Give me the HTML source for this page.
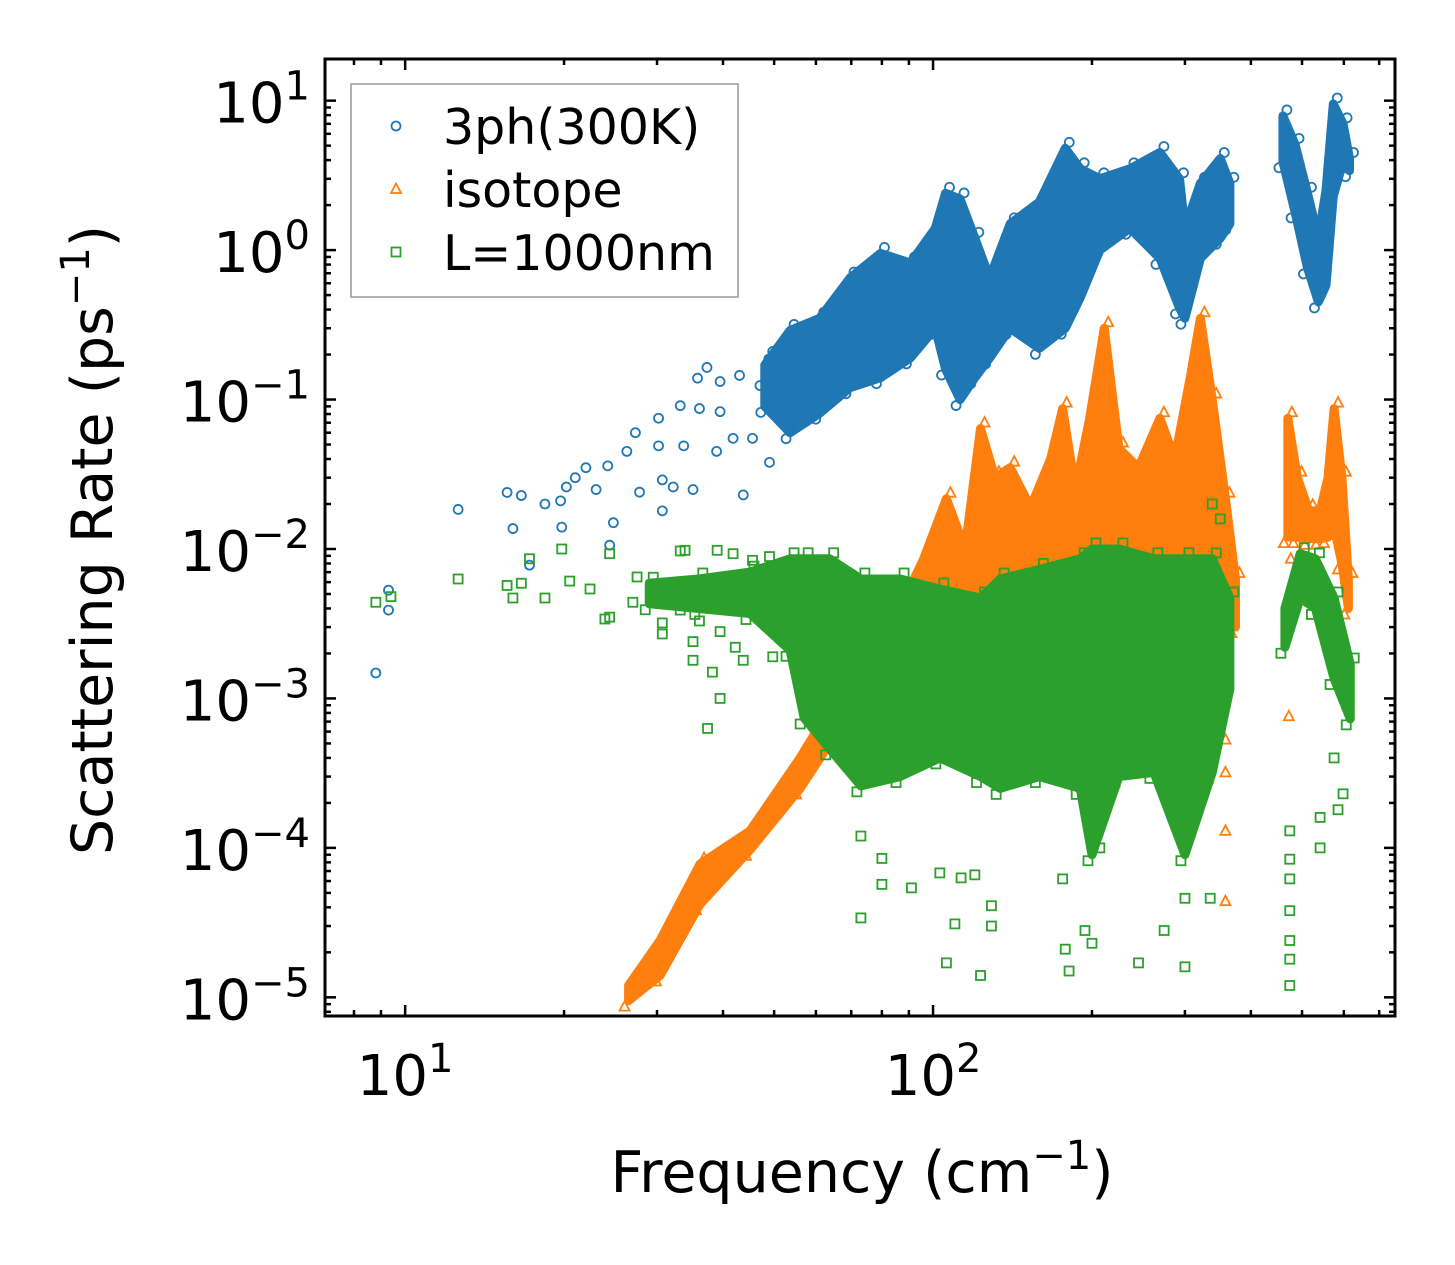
<!DOCTYPE html>
<html><head><meta charset="utf-8"><style>
html,body{margin:0;padding:0;background:#fff;}
svg{display:block;font-family:"DejaVu Sans","Liberation Sans",sans-serif;}
</style></head><body>
<svg id="chart" width="1455" height="1265" viewBox="0 0 1455 1265" xmlns="http://www.w3.org/2000/svg">
<rect x="0" y="0" width="1455" height="1265" fill="#fff"/>
<defs><clipPath id="plotclip"><rect x="325" y="59" width="1070" height="957"/></clipPath></defs>
<g id="marks" clip-path="url(#plotclip)"></g>
<g id="axes"></g>
</svg>
<script>
// ---- axis ranges ----
const xDomain = [7.05, 750];
const yDomain = [0.0000075, 19];
const xTickLabels = [10, 100];
const yTickExps = [1, 0, -1, -2, -3, -4, -5];

// ---- 3ph(300K) sparse points ----
const phFreq = [8.8, 9.3, 9.3, 12.6, 15.6, 16.0, 16.6, 17.2, 18.4, 19.7, 20.2, 19.8, 21.0, 22.0, 23.0, 24.2, 24.8, 24.4, 26.3, 27.3, 27.8, 30.2, 30.2, 30.7, 30.7, 32.2, 33.2, 33.7, 35.1, 35.8, 36.1, 37.3, 38.9, 39.5, 39.5, 41.8, 43.0, 43.7, 45.5, 47.0, 49.0, 49.7, 53.0, 56.0];
const phRate = [0.00148, 0.0053, 0.0039, 0.0184, 0.0239, 0.0137, 0.0228, 0.0078, 0.020, 0.021, 0.026, 0.014, 0.030, 0.035, 0.025, 0.036, 0.015, 0.0106, 0.045, 0.060, 0.024, 0.075, 0.049, 0.029, 0.018, 0.026, 0.091, 0.049, 0.025, 0.139, 0.087, 0.164, 0.045, 0.132, 0.083, 0.055, 0.145, 0.023, 0.055, 0.124, 0.038, 0.21, 0.067, 0.087];
// ---- 3ph dense band (freq, low, high) ----
const phBandFreq = [48, 53.6, 61, 69.6, 79.5, 90.6, 101, 105.6, 112.5, 120, 128, 140, 159, 178, 190, 207, 236, 269, 293, 300, 321, 350, 365];
const phBandHigh = [0.17, 0.29, 0.35, 0.65, 0.95, 0.82, 1.4, 2.4, 2.2, 1.2, 0.65, 1.5, 2.1, 4.8, 3.5, 3.0, 3.5, 4.5, 3.0, 1.4, 2.8, 4.1, 2.8];
const phBandLow = [0.09, 0.06, 0.081, 0.12, 0.14, 0.19, 0.3, 0.16, 0.10, 0.14, 0.19, 0.3, 0.22, 0.3, 0.48, 1.0, 1.4, 0.88, 0.41, 0.35, 0.88, 1.2, 1.5];
const ph2BandFreq = [460, 485, 512, 537, 555, 573, 598, 615];
const ph2BandHigh = [7.9, 5.1, 2.4, 1.2, 2.5, 9.5, 7.0, 4.1];
const ph2BandLow = [3.9, 1.8, 0.76, 0.45, 0.58, 2.3, 3.9, 3.4];

// ---- isotope ----
const isoBandFreq = [26.5, 30.4, 36.2, 45, 56, 63.7, 73, 86.6, 96, 106, 115, 123, 131, 140, 153, 167, 176, 186, 198, 211, 225, 245, 269, 287, 307, 321, 338, 358, 374];
const isoBandHigh = [1.2e-5, 2.4e-5, 7.8e-5, 1.3e-4, 4e-4, 8.5e-4, 1.4e-3, 4e-3, 8.6e-3, 0.0217, 0.01, 0.064, 0.03, 0.035, 0.019, 0.04, 0.087, 0.025, 0.075, 0.3, 0.047, 0.035, 0.075, 0.04, 0.14, 0.35, 0.1, 0.0217, 0.0063];
const isoBandLow = [0.95e-5, 1.4e-5, 4.2e-5, 9.7e-5, 2.5e-4, 5e-4, 1e-3, 2e-3, 3e-3, 3.4e-3, 3.4e-3, 3.4e-3, 3.4e-3, 3.4e-3, 3.4e-3, 3.4e-3, 3.4e-3, 3.4e-3, 3.4e-3, 3.4e-3, 3.4e-3, 3.4e-3, 3.4e-3, 3.4e-3, 3.4e-3, 3.4e-3, 3.4e-3, 3.4e-3, 3.0e-3];
const iso2BandFreq = [470, 490, 515, 541, 560, 575, 595, 612];
const iso2BandHigh = [0.075, 0.03, 0.018, 0.018, 0.03, 0.087, 0.03, 0.0063];
const iso2BandLow = [0.012, 0.012, 0.0117, 0.0117, 0.012, 0.014, 0.008, 0.004];
const isoFreq = [472, 358, 358, 358, 358, 476];
const isoRate = [7.6e-4, 3.2e-4, 1.3e-4, 4.4e-5, 5.3e-4, 0.0086];

// ---- L=1000nm ----
const bdFreq = [8.8, 9.4, 12.6, 15.6, 16.0, 16.6, 17.2, 18.4, 19.8, 20.5, 22.4, 23.9, 24.4, 24.4, 27.0, 27.5, 30.7, 30.7, 33.2, 33.2, 33.9, 35.1, 35.1, 36.1, 37.4, 38.2, 39.0, 39.5, 39.5, 41.8, 42.2, 43.7, 45.5, 49.0, 49.7, 73, 73, 80, 80, 91, 103, 106, 110, 113, 120, 123, 129, 129, 176, 178, 181, 194, 200, 207, 245, 274, 300, 300, 335, 474, 474, 474, 474, 474, 474, 474, 575, 598, 541, 541, 585, 350, 338];
const bdRate = [4.4e-3, 4.8e-3, 6.3e-3, 5.7e-3, 4.7e-3, 5.9e-3, 8.6e-3, 4.7e-3, 0.01, 6.1e-3, 5.4e-3, 3.4e-3, 3.5e-3, 9.3e-3, 4.4e-3, 6.5e-3, 3.2e-3, 2.7e-3, 3.9e-3, 9.7e-3, 9.8e-3, 2.4e-3, 1.8e-3, 3.3e-3, 6.3e-4, 1.5e-3, 9.8e-3, 2.8e-3, 1e-3, 9.3e-3, 2.2e-3, 1.8e-3, 8.4e-3, 8.9e-3, 1.9e-3, 1.2e-4, 3.4e-5, 8.5e-5, 5.7e-5, 5.4e-5, 6.8e-5, 1.7e-5, 3.1e-5, 6.3e-5, 6.6e-5, 1.4e-5, 4.1e-5, 3e-5, 6.2e-5, 2.1e-5, 1.5e-5, 2.8e-5, 2.3e-5, 1e-4, 1.7e-5, 2.8e-5, 1.6e-5, 4.6e-5, 4.6e-5, 1.3e-4, 8.4e-5, 6.2e-5, 3.8e-5, 2.4e-5, 1.8e-5, 1.2e-5, 4e-4, 2.3e-4, 1.6e-4, 1e-4, 1.8e-4, 0.0159, 0.02];
const bdBandFreq = [29, 36, 45, 53.6, 57, 63.7, 73, 86.6, 103, 123, 134, 159, 190, 200, 225, 262, 300, 338, 365];
const bdBandHigh = [5.9e-3, 6.3e-3, 7e-3, 8.6e-3, 8.6e-3, 8.6e-3, 6.3e-3, 6.3e-3, 5.4e-3, 4.7e-3, 6.3e-3, 7.3e-3, 8.6e-3, 0.01, 0.01, 8.6e-3, 8.6e-3, 8.6e-3, 4.7e-3];
const bdBandLow = [4.3e-3, 4e-3, 3.7e-3, 2.1e-3, 7.4e-4, 4.6e-4, 2.6e-4, 3e-4, 4e-4, 3e-4, 2.5e-4, 3e-4, 2.5e-4, 9e-5, 3e-4, 3.2e-4, 9e-5, 3.2e-4, 1.16e-3];
const bd2BandFreq = [464, 496, 530, 575, 617];
const bd2BandHigh = [4e-3, 9.3e-3, 8.6e-3, 4.7e-3, 1.7e-3];
const bd2BandLow = [2.2e-3, 4.7e-3, 4e-3, 1.36e-3, 7.3e-4];

const NS = "http://www.w3.org/2000/svg";
const L = 325, R = 1395, T = 59, B = 1016;
function xs(v){ return L + (Math.log10(v) - Math.log10(xDomain[0])) / (Math.log10(xDomain[1]) - Math.log10(xDomain[0])) * (R - L); }
function ys(v){ return B - (Math.log10(v) - Math.log10(yDomain[0])) / (Math.log10(yDomain[1]) - Math.log10(yDomain[0])) * (B - T); }
function mk(tag, attrs, parent){ const e = document.createElementNS(NS, tag); for (const k in attrs) e.setAttribute(k, attrs[k]); parent.appendChild(e); return e; }
const marks = document.getElementById('marks');
const axes = document.getElementById('axes');
const C1 = '#1f77b4', C2 = '#ff7f0e', C3 = '#2ca02c';

function marker(shape, cx, cy, color, parent){
  let e;
  if (shape === 'o') e = mk('circle', {cx: cx, cy: cy, r: 4.5, fill: 'none', stroke: color, 'stroke-width': 1.8}, parent);
  else if (shape === '^') e = mk('polygon', {points: `${cx},${cy-5.5} ${cx-5},${cy+4} ${cx+5},${cy+4}`, fill: 'none', stroke: color, 'stroke-width': 1.8}, parent);
  else e = mk('rect', {x: cx-4.5, y: cy-4.5, width: 9, height: 9, fill: 'none', stroke: color, 'stroke-width': 1.8}, parent);
  return e;
}
function band(fr, lo, hi, color, name, shape){
  let pts = [];
  for (let i = 0; i < fr.length; i++) pts.push(xs(fr[i]) + ',' + ys(hi[i]));
  for (let i = fr.length - 1; i >= 0; i--) pts.push(xs(fr[i]) + ',' + ys(lo[i]));
  const p = mk('polygon', {points: pts.join(' '), fill: color, stroke: color, 'stroke-width': 9, 'stroke-linejoin': 'round'}, marks);
  
  
  for (let i = 0; i < fr.length; i++) {
    const m1 = marker(shape, xs(fr[i]) + 4, ys(hi[i]) - 6, color, marks);
    
    
    const m2 = marker(shape, xs(fr[i]) - 4, ys(lo[i]) + 6, color, marks);
    
    
  }
}
function points(fr, val, color, shape, name){
  for (let i = 0; i < fr.length; i++) {
    const m = marker(shape, xs(fr[i]), ys(val[i]), color, marks);
    
    
  }
}
band(phBandFreq, phBandLow, phBandHigh, C1, 'ph3-cloud', 'o');
band(ph2BandFreq, ph2BandLow, ph2BandHigh, C1, 'ph3-cloud-high', 'o');
points(phFreq, phRate, C1, 'o', 'ph3-point');
band(isoBandFreq, isoBandLow, isoBandHigh, C2, 'isotope-cloud', '^');
band(iso2BandFreq, iso2BandLow, iso2BandHigh, C2, 'isotope-cloud-high', '^');
points(isoFreq, isoRate, C2, '^', 'isotope-point');
band(bdBandFreq, bdBandLow, bdBandHigh, C3, 'boundary-cloud', 's');
band(bd2BandFreq, bd2BandLow, bd2BandHigh, C3, 'boundary-cloud-high', 's');
points(bdFreq, bdRate, C3, 's', 'boundary-point');

// ---- axes frame ----
const frame = mk('rect', {x: L, y: T, width: R-L, height: B-T, fill: 'none', stroke: '#000', 'stroke-width': 3}, axes);


for (let d = 1; d <= 100; d *= 10) {
  for (let k = 1; k <= 9; k++) {
    const v = d * k;
    if (v < xDomain[0] || v > xDomain[1]) continue;
    const x = xs(v), len = k === 1 ? 11 : 6;
    mk('line', {x1: x, y1: B, x2: x, y2: B - len, stroke: '#000', 'stroke-width': 2.5}, axes);
    mk('line', {x1: x, y1: T, x2: x, y2: T + len, stroke: '#000', 'stroke-width': 2.5}, axes);
  }
}
xTickLabels.forEach(v => {
  const t = mk('text', {x: xs(v), y: 1095, 'font-size': 56, 'text-anchor': 'middle'}, axes);
  
  
  t.innerHTML = '10<tspan dy="-23" font-size="40">' + Math.round(Math.log10(v)) + '</tspan>';
});
for (let e = -6; e <= 1; e++) {
  for (let k = 1; k <= 9; k++) {
    const v = Math.pow(10, e) * k;
    if (v < yDomain[0] || v > yDomain[1]) continue;
    const y = ys(v), len = k === 1 ? 11 : 6;
    mk('line', {x1: L, y1: y, x2: L + len, y2: y, stroke: '#000', 'stroke-width': 2.5}, axes);
    mk('line', {x1: R, y1: y, x2: R - len, y2: y, stroke: '#000', 'stroke-width': 2.5}, axes);
  }
}
yTickExps.forEach(e => {
  const t = mk('text', {x: 310, y: ys(Math.pow(10, e)) + 22, 'font-size': 56, 'text-anchor': 'end'}, axes);
  
  
  t.innerHTML = '10<tspan dy="-23" font-size="40">' + (e < 0 ? '\u2212' + (-e) : e) + '</tspan>';
});
const xt = mk('text', {x: 862, y: 1192, 'font-size': 57, 'text-anchor': 'middle'}, axes);


xt.innerHTML = 'Frequency (cm<tspan dy="-23" font-size="40">\u22121</tspan><tspan dy="23">)</tspan>';
const yt = mk('text', {x: 0, y: 0, 'font-size': 57, 'text-anchor': 'middle', transform: 'translate(112,540) rotate(-90)'}, axes);


yt.innerHTML = 'Scattering Rate (ps<tspan dy="-23" font-size="40">\u22121</tspan><tspan dy="23">)</tspan>';
const lg = mk('g', {}, axes);


mk('rect', {x: 351, y: 84, width: 387, height: 213, fill: '#fff', 'fill-opacity': 0.8, stroke: '#999', 'stroke-width': 1.5}, lg);
const legendLabels = ['3ph(300K)', 'isotope', 'L=1000nm'];
const legendShapes = ['o', '^', 's'];
const legendColors = [C1, C2, C3];
const legendY = [126, 189, 252];
for (let i = 0; i < 3; i++) {
  const m = marker(legendShapes[i], 396, legendY[i], legendColors[i], lg);
  
  
  const t = mk('text', {x: 443, y: legendY[i] + 18, 'font-size': 49}, lg);
  
  
  t.textContent = legendLabels[i];
}
</script>
</body></html>
